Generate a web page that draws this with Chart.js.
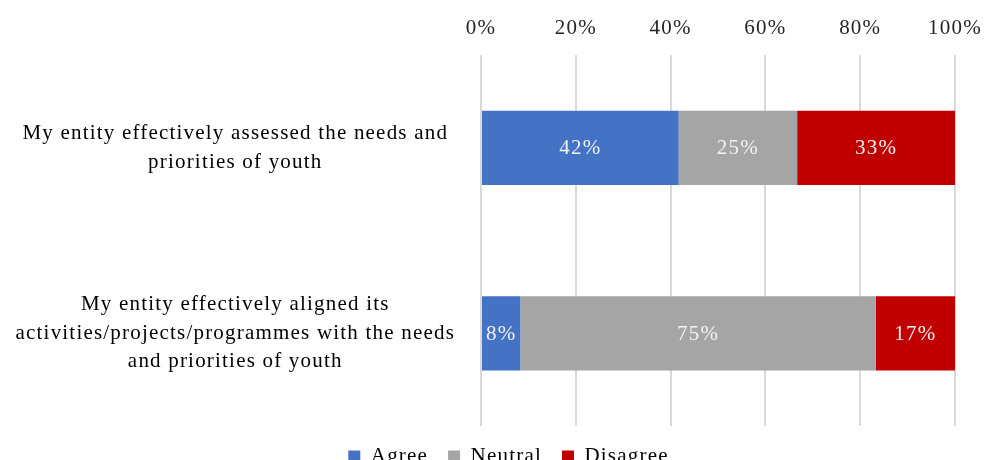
<!DOCTYPE html>
<html>
<head>
<meta charset="utf-8">
<script src="https://cdn.jsdelivr.net/npm/chart.js@4/dist/chart.umd.min.js"></script>
<style>
  html, body { margin: 0; padding: 0; background: #fff; overflow: hidden; }
  #wrap { width: 985px; height: 477px; position: relative; }
</style>
</head>
<body>
<div id="wrap"><canvas id="c"></canvas></div>
<script>
const categories = [
  ["My entity effectively assessed the needs and", "priorities of youth"],
  ["My entity effectively aligned its", "activities/projects/programmes with the needs", "and priorities of youth"]
];
const seriesNames = ["Agree", "Neutral", "Disagree"];
const agree = [41.7, 8.3];
const neutral = [25, 75];
const disagree = [33.3, 16.7];
const tickValues = [0, 20, 40, 60, 80, 100];

const colors = ["#4472C4", "#A5A5A5", "#C00000"];
const serif = "'Liberation Serif', 'Times New Roman', serif";
const spacing = "1.2px";

const spacingPlugin = {
  id: 'spacing',
  beforeUpdate(chart) { chart.ctx.letterSpacing = spacing; },
  beforeLayout(chart) { chart.ctx.letterSpacing = spacing; },
  afterLayout(chart) {
    const lg = chart.legend;
    if (lg) { lg.left += 31; lg.right += 31; }
  },
  beforeDraw(chart) { chart.ctx.letterSpacing = spacing; }
};

const labelPlugin = {
  id: 'barLabels',
  afterDatasetsDraw(chart) {
    const ctx = chart.ctx;
    ctx.save();
    ctx.letterSpacing = spacing;
    ctx.font = "21px " + serif;
    ctx.fillStyle = "#F2F2F2";
    ctx.textAlign = "center";
    ctx.textBaseline = "middle";
    chart.data.datasets.forEach((ds, i) => {
      const meta = chart.getDatasetMeta(i);
      meta.data.forEach((el, j) => {
        const v = ds.data[j];
        const cx = (el.x + el.base) / 2;
        ctx.fillText(Math.round(v) + "%", cx, el.y + 1);
      });
    });
    ctx.restore();
  }
};

new Chart(document.getElementById('c'), {
  type: 'bar',
  data: {
    labels: categories,
    datasets: [
      { label: seriesNames[0], data: agree, backgroundColor: colors[0] },
      { label: seriesNames[1], data: neutral, backgroundColor: colors[1] },
      { label: seriesNames[2], data: disagree, backgroundColor: colors[2] }
    ]
  },
  options: {
    indexAxis: 'y',
    responsive: true,
    maintainAspectRatio: false,
    animation: false,
    layout: { autoPadding: false, padding: { left: 0, right: 30, top: 2, bottom: 0 } },
    datasets: { bar: { categoryPercentage: 0.4, barPercentage: 1.0, borderWidth: 0 } },
    scales: {
      x: {
        position: 'top',
        stacked: true,
        min: 0,
        max: 100,
        afterBuildTicks(scale) { scale.ticks = tickValues.map(v => ({ value: v })); },
        afterFit(scale) { scale.paddingRight = 0; scale.paddingLeft = 0; },
        ticks: {
          callback: v => v + "%",
          font: { family: serif, size: 21 },
          color: "#262626",
          padding: 14
        },
        grid: { color: "#D9D9D9", lineWidth: 2, drawTicks: false },
        border: { display: false }
      },
      y: {
        stacked: true,
        afterFit(scale) { scale.width = 481; },
        ticks: {
          crossAlign: 'center',
          font: { family: serif, size: 21, lineHeight: 1.35 },
          color: "#000",
          padding: 0
        },
        grid: {
          display: true,
          drawOnChartArea: false,
          drawTicks: true,
          tickLength: 26,
          tickColor: "rgba(0,0,0,0)",
          color: "rgba(0,0,0,0)"
        },
        border: { display: false }
      }
    },
    plugins: {
      legend: {
        position: 'bottom',
        labels: {
          font: { family: serif, size: 21 },
          color: "#000",
          boxWidth: 12,
          boxHeight: 12,
          padding: 20
        }
      },
      tooltip: { enabled: false }
    }
  },
  plugins: [spacingPlugin, labelPlugin]
});
</script>
</body>
</html>
